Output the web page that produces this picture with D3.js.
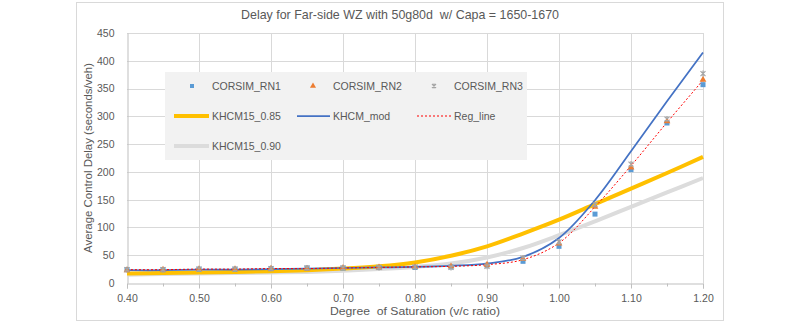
<!DOCTYPE html>
<html><head><meta charset="utf-8">
<script src="https://cdn.jsdelivr.net/npm/d3@7"></script>
<style>body{margin:0;background:#fff}svg{display:block}text{font-family:"Liberation Sans",Arial,sans-serif;fill:#595959;white-space:pre}</style>
</head><body>
<svg id="c" width="800" height="323"></svg>
<script>
const title = "Delay for Far-side WZ with 50g80d  w/ Capa = 1650-1670";
const xTitle = "Degree  of Saturation (v/c ratio)";
const yTitle = "Average Control Delay (seconds/veh)";
const vc = [0.40,0.45,0.50,0.55,0.60,0.65,0.70,0.75,0.80,0.85,0.90,0.95,1.00,1.05,1.10,1.15,1.20];
const rn1 = [24,24,25,25,26,27,27,28,28,29,32,39,66,124,204,288,357];
const rn2 = [23,24,25,25,26,26,27,28,29,30,33,43,71,137,208,291,366];
const rn3 = [24,24,25,25,26,27,27,28,29,28,30,45,74,141,214,295,377];
const khcm085 = [17,18,19,20,21,23,26,30,37,49,66,89,114,142,170,198,227];
const khcm090 = [15,16,17,18,19,20,22,25,29,35,46,63,86,111,137,163,189];
const khcmMod = [23,23,24,24,25,26,27,28,29,31,35,47,81,149,237,327,415];
const regLine = [24,24,25,25,26,26,27,28,29,30,33,42,72,137,211,289,365];
const xTicks = [0.40,0.50,0.60,0.70,0.80,0.90,1.00,1.10,1.20];
const yTicks = [0,50,100,150,200,250,300,350,400,450];

const svg = d3.select("#c");
svg.append("rect").attr("x",76.5).attr("y",2.5).attr("width",647).attr("height",318)
  .attr("fill","#fff").attr("stroke","#d9d9d9");
const x = d3.scaleLinear().domain([0.4,1.2]).range([127,703]);
const y = d3.scaleLinear().domain([0,450]).range([283,33]);

// gridlines
const g = svg.append("g");
g.selectAll(".hg").data(yTicks.slice(1)).join("line")
  .attr("x1",x(0.4)).attr("x2",x(1.2)).attr("y1",d=>Math.round(y(d))+0.5).attr("y2",d=>Math.round(y(d))+0.5)
  .attr("stroke","#d9d9d9");
g.selectAll(".vg").data(xTicks.slice(1)).join("line")
  .attr("x1",d=>Math.round(x(d))+0.5).attr("x2",d=>Math.round(x(d))+0.5).attr("y1",y(450)).attr("y2",y(0))
  .attr("stroke","#d9d9d9");

// axes
const xa = svg.append("g").attr("transform",`translate(0,${Math.round(y(0))+0.5})`)
  .call(d3.axisBottom(x).tickValues(xTicks).tickFormat(d3.format(".2f")).tickSize(5).tickPadding(6));
xa.select(".domain").attr("stroke","#bfbfbf");
xa.selectAll(".tick line").attr("stroke","#bfbfbf");
xa.selectAll("text").attr("font-size",10.5).attr("fill","#595959");
xa.selectAll(".minor").data(d3.range(0.45,1.2,0.1)).join("line").attr("class","minor")
  .attr("x1",d=>Math.round(x(d))+0.5).attr("x2",d=>Math.round(x(d))+0.5).attr("y1",0).attr("y2",3).attr("stroke","#bfbfbf");
const ya = svg.append("g").attr("transform",`translate(${Math.round(x(0.4))+0.5},0)`)
  .call(d3.axisLeft(y).tickValues(yTicks).tickSize(0).tickPadding(13));
ya.select(".domain").attr("stroke","#bfbfbf");
ya.selectAll("text").attr("font-size",10.5).attr("fill","#595959");

// titles
svg.append("text").attr("x",400).attr("y",19).attr("text-anchor","middle").attr("font-size",13)
  .attr("textLength",318).attr("lengthAdjust","spacingAndGlyphs").text(title);
svg.append("text").attr("x",415).attr("y",315).attr("text-anchor","middle").attr("font-size",11)
  .attr("textLength",170).attr("lengthAdjust","spacingAndGlyphs").text(xTitle);
svg.append("text").attr("transform","translate(92,158) rotate(-90)").attr("text-anchor","middle").attr("font-size",11)
  .attr("textLength",190).attr("lengthAdjust","spacingAndGlyphs").text(yTitle);

// lines
const mk = arr => d3.line().x((d,i)=>x(vc[i])).y(d=>y(d)).curve(d3.curveCatmullRom)(arr);
const lines = svg.append("g");
lines.append("path").attr("d",mk(khcm090)).attr("fill","none").attr("stroke","#dcdcdc").attr("stroke-width",4);
lines.append("path").attr("d",mk(khcm085)).attr("fill","none").attr("stroke","#ffc000").attr("stroke-width",4);
lines.append("path").attr("d",mk(khcmMod)).attr("fill","none").attr("stroke","#4472c4").attr("stroke-width",1.75);
lines.append("path").attr("d",mk(regLine)).attr("fill","none").attr("stroke","#ff0000").attr("stroke-width",1).attr("stroke-dasharray","2,2");

// markers
const star = (sel,s)=>{sel.append("path").attr("d",`M${-s},${-s}L${s},${s}M${-s},${s}L${s},${-s}M0,${-s-0.5}L0,${s+0.5}`).attr("stroke","#a5a5a5").attr("stroke-width",1.2).attr("fill","none");};
const m = svg.append("g");
m.selectAll(".p1").data(rn1).join("rect").attr("x",(d,i)=>x(vc[i])-2.5).attr("y",d=>y(d)-2.5).attr("width",5).attr("height",5).attr("fill","#5b9bd5");
m.selectAll(".p2").data(rn2).join("path").attr("transform",(d,i)=>`translate(${x(vc[i])},${y(d)})`)
  .attr("d",d3.symbol(d3.symbolTriangle,20)).attr("fill","#ed7d31");
rn3.forEach((d,i)=>{ const gg=m.append("g").attr("transform",`translate(${x(vc[i])},${y(d)})`); star(gg,2.5); });

// legend
const L = svg.append("g");
L.append("rect").attr("x",165).attr("y",72).attr("width",362).attr("height",88).attr("fill","#f2f2f2");
const legTxt = (tx,ty,t)=>L.append("text").attr("x",tx).attr("y",ty+4).attr("font-size",10.5).text(t);
L.append("rect").attr("x",190).attr("y",84).attr("width",4).attr("height",4).attr("fill","#5b9bd5");
legTxt(212,86,"CORSIM_RN1");
L.append("path").attr("transform","translate(313,86)").attr("d",d3.symbol(d3.symbolTriangle,16)).attr("fill","#ed7d31");
legTxt(333,86,"CORSIM_RN2");
const lg=L.append("g").attr("transform","translate(434,86)"); star(lg,2);
legTxt(454,86,"CORSIM_RN3");
L.append("line").attr("x1",174).attr("x2",209).attr("y1",116).attr("y2",116).attr("stroke","#ffc000").attr("stroke-width",4);
legTxt(212,116,"KHCM15_0.85");
L.append("line").attr("x1",297).attr("x2",330).attr("y1",116).attr("y2",116).attr("stroke","#4472c4").attr("stroke-width",1.75);
legTxt(333,116,"KHCM_mod");
L.append("line").attr("x1",417).attr("x2",451).attr("y1",116).attr("y2",116).attr("stroke","#ff0000").attr("stroke-width",1).attr("stroke-dasharray","2,2");
legTxt(454,116,"Reg_line");
L.append("line").attr("x1",174).attr("x2",209).attr("y1",146).attr("y2",146).attr("stroke","#dcdcdc").attr("stroke-width",4);
legTxt(212,146,"KHCM15_0.90");
</script>
</body></html>
